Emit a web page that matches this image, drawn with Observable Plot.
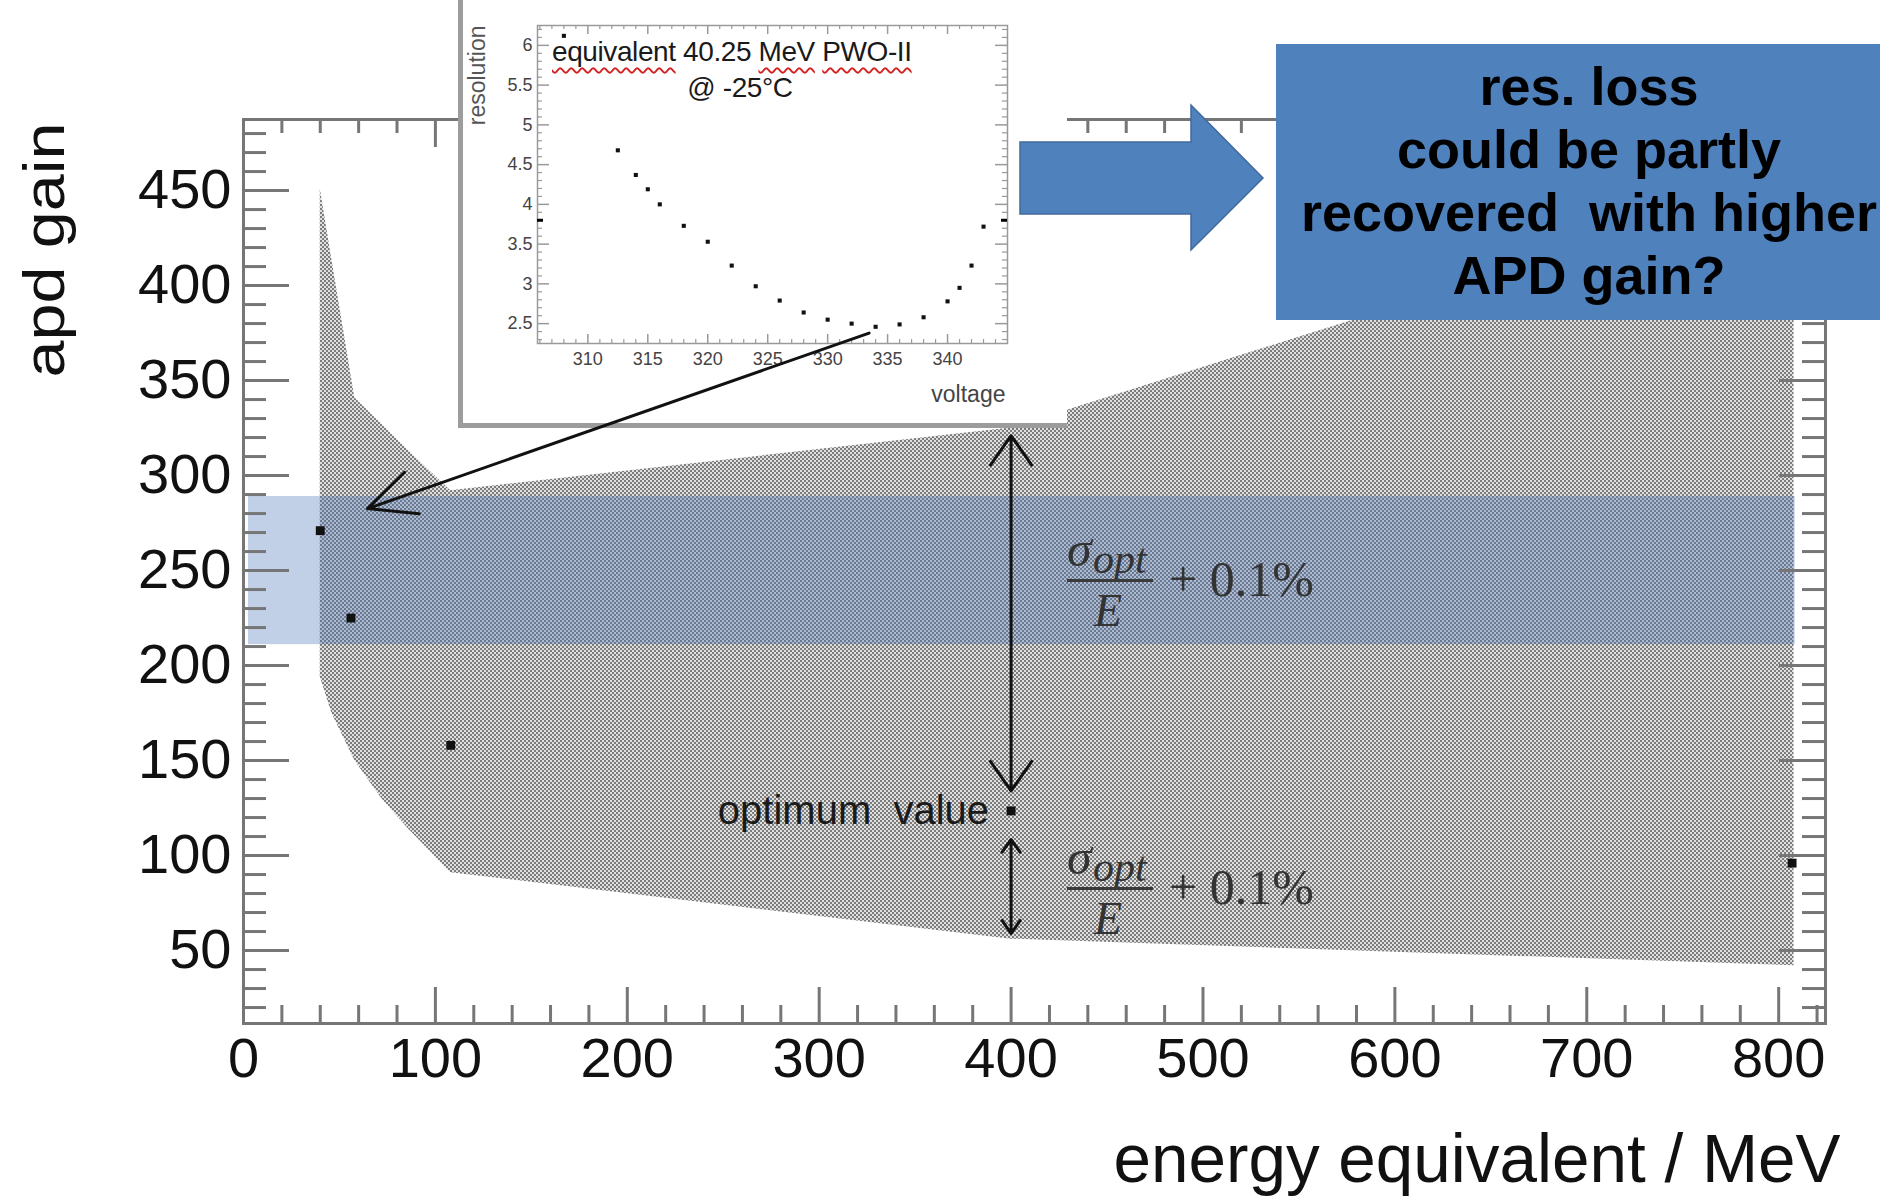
<!DOCTYPE html>
<html>
<head>
<meta charset="utf-8">
<script src="https://cdn.jsdelivr.net/npm/d3@7"></script>
<script src="https://cdn.jsdelivr.net/npm/@observablehq/plot@0.6"></script>
<style>
  html, body { margin: 0; padding: 0; background: #fff; }
  #page { position: relative; width: 1880px; height: 1196px; overflow: hidden; background: #fff;
          font-family: "Liberation Sans", Arial, sans-serif; }
  .abs { position: absolute; }
  svg text { white-space: pre; }
  #main, #overlay { position: absolute; left: 0; top: 0; }
  #overlay { pointer-events: none; }
  #insetBox { position: absolute; left: 458px; top: 0; width: 604px; height: 423px; background: #fff;
              border-left: 5px solid #9c9c9c; border-bottom: 5px solid #9c9c9c; }
  #insetBox svg { position: absolute; left: 0; top: 0; }
  .note { position: absolute; font-size: 28px; line-height: 28px; color: #1a1a1a; white-space: pre; letter-spacing: -0.4px; }
  .sq { text-decoration: underline wavy #d42020; text-decoration-thickness: 1.8px;
        text-underline-offset: 6px; text-decoration-skip-ink: none; }
  .ser { position: absolute; font-family: "Liberation Serif", "Times New Roman", serif; color: #333; line-height: 1; white-space: pre; }
  .it { font-style: italic; }
  .bar { position: absolute; height: 2.5px; background: #3a3a3a; }
  #box { position: absolute; left: 1276px; top: 44px; width: 626px; height: 276px; background: #4f81bd;
         box-sizing: border-box; padding-top: 11px; text-align: center; font-weight: bold; font-size: 54px;
         line-height: 63px; color: #000; white-space: pre; }
  #blockArrow { position: absolute; left: 0; top: 0; pointer-events: none; }
</style>
</head>
<body>
<div id="page">
  <div id="main"></div>
  <div id="f1"></div>
  <div id="f2"></div>
  <div id="insetBox"></div>
  <div class="note" style="left:552px; top:38px;"><span class="sq">equivalent</span> 40.25 <span class="sq">MeV</span> <span class="sq">PWO-II</span></div>
  <div class="note" style="left:640px; top:74px; width:200px; text-align:center;">@ -25°C</div>
  <svg id="blockArrow" width="1880" height="1196">
    <path d="M1020,142 L1191,142 L1191,105 L1263,178 L1191,250 L1191,214 L1020,214 Z" fill="#4f81bd" stroke="#41699c" stroke-width="1.5"/>
  </svg>
  <div id="box">res. loss
could be partly
recovered  with higher
APD gain?</div>
  <div id="overlay"></div>
</div>
<script>
// ---------------- data (main chart) ----------------
const energy  = [40, 56, 108, 400, 807];          // MeV
const gainOpt = [271, 225, 158, 123.5, 96];        // optimum apd gain
const bandX    = [40, 46, 58, 72, 86, 108, 400, 808];
const bandLow  = [194, 175, 150, 130, 114, 91, 56, 42];
const bandHigh = [451, 414, 341, 327, 313, 292, 325, 455];
const blueBandX = [2.6, 808.6];
const blueBandY = [211, 289];
const upperSpan = [134, 321];     // double arrow above optimum
const lowerSpan = [59, 108.5];    // double arrow below optimum
const calloutFrom = [326, 375];
const calloutTo   = [64.6, 282.6];
const xTicks = [0, 100, 200, 300, 400, 500, 600, 700, 800];
const yTicks = [50, 100, 150, 200, 250, 300, 350, 400, 450];

// ---------------- data (inset) ----------------
const voltage    = [308, 312.5, 314, 315, 316, 318, 320, 322, 324, 326, 328, 330, 332, 334, 336, 338, 340, 341, 342, 343];
const resolution = [6.12, 4.68, 4.37, 4.19, 4.0, 3.73, 3.53, 3.23, 2.97, 2.79, 2.64, 2.55, 2.5, 2.46, 2.49, 2.58, 2.78, 2.95, 3.23, 3.72];
const voltTicks = [310, 315, 320, 325, 330, 335, 340];
const resTicks  = [2.5, 3, 3.5, 4, 4.5, 5, 5.5, 6];
const edgeMarkY = [3.8];

// ---------------- main chart ----------------
const W = 1880, H = 1196;
const M = {left: 243, right: 55, top: 119, bottom: 173};
const FW = W - M.left - M.right, FH = H - M.top - M.bottom;
const xDomain = [0, 824.4], yDomain = [11.6, 487.4];
const axisColor = "#767676";
const xMinor = d3.range(20, 825, 20).filter(v => v % 100 !== 0);
const yMinor = d3.range(20, 488, 10).filter(v => v % 50 !== 0);
const font = "'Liberation Sans', Arial, sans-serif";

const base = {
  width: W, height: H,
  marginLeft: M.left, marginRight: M.right, marginTop: M.top, marginBottom: M.bottom,
  x: {domain: xDomain, axis: null},
  y: {domain: yDomain, axis: null},
  style: {background: "transparent", fontFamily: font, color: "#111", overflow: "visible"}
};

const mid = a => (a[0] + a[1]) / 2;
const spanArrows = [
  {y1: mid(upperSpan), y2: upperSpan[1]}, {y1: mid(upperSpan), y2: upperSpan[0]},
  {y1: mid(lowerSpan), y2: lowerSpan[1]}, {y1: mid(lowerSpan), y2: lowerSpan[0]}
];

const main = Plot.plot({
  ...base,
  marks: [
    Plot.areaY(bandX, {x: bandX, y1: bandLow, y2: bandHigh, fill: "url(#hatch)", curve: "linear"}),
    Plot.rect([0], {x1: () => blueBandX[0], x2: () => blueBandX[1], y1: () => blueBandY[0], y2: () => blueBandY[1],
                    fill: "#4a74b8", fillOpacity: 0.34}),
    // ticks, ROOT style (inward, on all four sides)
    Plot.tickX(xTicks, {x: d => d, insetTop: FH - 36, stroke: axisColor, strokeWidth: 3}),
    Plot.tickX(xMinor, {x: d => d, insetTop: FH - 18, stroke: axisColor, strokeWidth: 3}),
    Plot.tickX(xTicks, {x: d => d, insetBottom: FH - 28, stroke: axisColor, strokeWidth: 3}),
    Plot.tickX(xMinor, {x: d => d, insetBottom: FH - 14, stroke: axisColor, strokeWidth: 3}),
    Plot.tickY(yTicks, {y: d => d, insetRight: FW - 46, stroke: axisColor, strokeWidth: 3}),
    Plot.tickY(yMinor, {y: d => d, insetRight: FW - 23, stroke: axisColor, strokeWidth: 3}),
    Plot.tickY(yTicks, {y: d => d, insetLeft: FW - 46, stroke: axisColor, strokeWidth: 3}),
    Plot.tickY(yMinor, {y: d => d, insetLeft: FW - 23, stroke: axisColor, strokeWidth: 3}),
    Plot.frame({stroke: axisColor, strokeWidth: 3}),
    Plot.axisX({ticks: xTicks, tickSize: 0, tickPadding: 14, fontSize: 56, label: null, fill: "#111"}),
    Plot.axisY({ticks: yTicks, tickSize: 0, tickPadding: 12, fontSize: 56, label: null, fill: "#111"}),
    Plot.text(["apd gain"], {frameAnchor: "top-left", text: d => d, rotate: -90, textAnchor: "end",
                             dx: -221, dy: 3, fontSize: 58, fill: "#111"}),
    Plot.text(["energy equivalent / MeV"], {frameAnchor: "bottom-right", text: d => d, textAnchor: "end",
                             dx: 15, dy: 158, fontSize: 68, fill: "#111"}),
    Plot.arrow(spanArrows, {x: () => energy[3], y1: "y1", y2: "y2", stroke: "#111", strokeWidth: 3,
                            headLength: 18, headAngle: 70}),
    Plot.dot(energy, {x: energy, y: gainOpt, symbol: "square", r: 5, fill: "#111"}),
    Plot.text(["optimum  value"], {x: () => energy[3], y: () => gainOpt[3], text: d => d, textAnchor: "end",
                                   dx: -22, fontSize: 40, fill: "#1a1a1a"})
  ]
});
const defs = d3.select(main).insert("defs", ":first-child");
const pat = defs.append("pattern").attr("id", "hatch").attr("patternUnits", "userSpaceOnUse")
  .attr("width", 4).attr("height", 4);
pat.append("rect").attr("width", 4).attr("height", 4).attr("fill", "#e0e0e0");
pat.append("rect").attr("width", 2).attr("height", 2).attr("fill", "#7c7c7c");
pat.append("rect").attr("x", 2).attr("y", 2).attr("width", 2).attr("height", 2).attr("fill", "#7c7c7c");
d3.select(main).selectAll("text").filter(function() { return this.textContent === "apd gain"; })
  .attr("textLength", 255).attr("lengthAdjust", "spacingAndGlyphs");
d3.select(main).selectAll("text").filter(function() { return this.textContent === "energy equivalent / MeV"; })
  .attr("textLength", 727).attr("lengthAdjust", "spacingAndGlyphs");
document.getElementById("main").appendChild(main);

// overlay: callout arrow drawn over the inset, same scales
const overlay = Plot.plot({
  ...base,
  marks: [
    Plot.arrow([0], {x1: () => calloutFrom[0], y1: () => calloutFrom[1], x2: () => calloutTo[0], y2: () => calloutTo[1],
                     stroke: "#111", strokeWidth: 3, headLength: 26, headAngle: 50})
  ]
});
document.getElementById("overlay").appendChild(overlay);

// ---------------- inset ----------------
const IW = 604, IH = 423;
const IM = {left: 74, right: 60, top: 25, bottom: 80};
const IFW = IW - IM.left - IM.right, IFH = IH - IM.top - IM.bottom;
const ic = "#9a9a9a";
const vMinor = d3.range(306, 345, 1).filter(v => v % 5 !== 0);
const rMinor = d3.range(2.3, 6.25, 0.1).map(v => Math.round(v * 10) / 10).filter(v => Math.round(v * 10) % 5 !== 0);
const inset = Plot.plot({
  width: IW, height: IH,
  marginLeft: IM.left, marginRight: IM.right, marginTop: IM.top, marginBottom: IM.bottom,
  x: {domain: [305.8, 345], axis: null},
  y: {domain: [2.25, 6.25], axis: null},
  style: {background: "transparent", fontFamily: font, color: "#444"},
  marks: [
    Plot.tickX(voltTicks, {x: d => d, insetTop: IFH - 9, stroke: ic, strokeWidth: 1.5}),
    Plot.tickX(vMinor, {x: d => d, insetTop: IFH - 4, stroke: ic, strokeWidth: 1.2}),
    Plot.tickX(voltTicks, {x: d => d, insetBottom: IFH - 9, stroke: ic, strokeWidth: 1.5}),
    Plot.tickX(vMinor, {x: d => d, insetBottom: IFH - 4, stroke: ic, strokeWidth: 1.2}),
    Plot.tickY(resTicks, {y: d => d, insetRight: IFW - 12, stroke: ic, strokeWidth: 1.5}),
    Plot.tickY(rMinor, {y: d => d, insetRight: IFW - 5, stroke: ic, strokeWidth: 1.2}),
    Plot.tickY(resTicks, {y: d => d, insetLeft: IFW - 12, stroke: ic, strokeWidth: 1.5}),
    Plot.tickY(rMinor, {y: d => d, insetLeft: IFW - 5, stroke: ic, strokeWidth: 1.2}),
    Plot.frame({stroke: ic, strokeWidth: 1.5}),
    Plot.tickY(edgeMarkY, {y: d => d, insetRight: IFW - 6, stroke: "#000", strokeWidth: 3}),
    Plot.tickY(edgeMarkY, {y: d => d, insetLeft: IFW - 6, stroke: "#000", strokeWidth: 3}),
    Plot.axisX({ticks: voltTicks, tickSize: 0, tickPadding: 9, fontSize: 18, label: null, fill: "#444",
                tickFormat: d => String(d)}),
    Plot.axisY({ticks: resTicks, tickSize: 0, tickPadding: 5, fontSize: 18, label: null, fill: "#444",
                tickFormat: d => String(d)}),
    Plot.dot(voltage, {x: voltage, y: resolution, symbol: "square", r: 2.3, fill: "#111"}),
    Plot.text(["resolution"], {frameAnchor: "top-left", text: d => d, rotate: -90, textAnchor: "end",
                               dx: -69, dy: 0, fontSize: 23, fill: "#555"}),
    Plot.text(["voltage"], {frameAnchor: "bottom-right", text: d => d, textAnchor: "end",
                            dx: -2, dy: 58, fontSize: 23, fill: "#444"})
  ]
});
document.getElementById("insetBox").appendChild(inset);

// ---------------- formula annotations ----------------
function formula(el, B) {
  el.innerHTML =
    `<div class="ser it" style="left:1067px; top:${B - 56}px; font-size:50px;">σ</div>` +
    `<div class="ser it" style="left:1093px; top:${B - 42}px; font-size:42px;">opt</div>` +
    `<div class="bar" style="left:1067px; top:${B - 1}px; width:86px;"></div>` +
    `<div class="ser it" style="left:1094px; top:${B + 8}px; font-size:46px;">E</div>` +
    `<div class="ser" style="left:1169px; top:${B - 26}px; font-size:50px;">+ 0.1%</div>`;
}
formula(document.getElementById("f1"), 580);
formula(document.getElementById("f2"), 888);
</script>
</body>
</html>
